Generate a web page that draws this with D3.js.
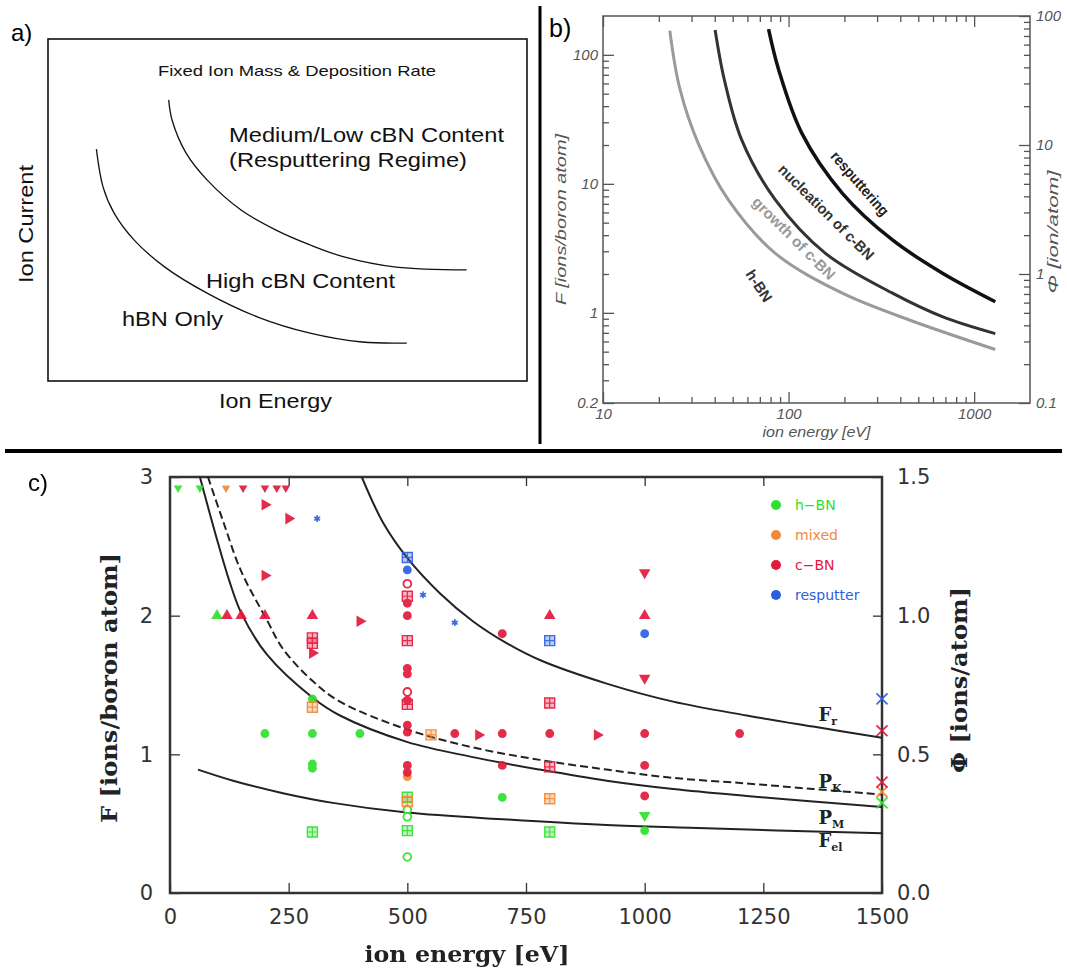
<!DOCTYPE html>
<html>
<head>
<meta charset="utf-8">
<script src="https://cdn.jsdelivr.net/npm/d3@7"></script>
<style>
  body { margin: 0; background: #fff; }
  svg { display: block; }
</style>
</head>
<body>
<div id="viz"></div>
<script>
// ---------- panel a: schematic (unitless 0..1 axes) ----------
const aHbnCurve = [[0.101,0.678],[0.115,0.567],[0.138,0.491],[0.180,0.412],[0.244,0.333],[0.332,0.257],[0.438,0.187],[0.547,0.140],[0.656,0.114],[0.749,0.111]];
const aResputCurve = [[0.252,0.822],[0.259,0.763],[0.288,0.667],[0.332,0.588],[0.403,0.500],[0.475,0.442],[0.547,0.398],[0.618,0.363],[0.727,0.333],[0.874,0.325]];

// ---------- panel b: ion energy [eV] vs F [ions/boron atom], log-log ----------
const bEnergyTicks = [10, 100, 1000];
const bFTicks = [0.2, 1, 10, 100];
const bPhiTicks = [0.1, 1, 10, 100];
const bHbnCurve = [[22.9,154],[25.9,55.1],[32.6,20.6],[47.4,7.5],[84.9,2.89],[195,1.42],[448,0.88],[1300,0.52]];
const bNuclCurve = [[40.2,156],[45.1,63.8],[55.9,21.9],[84.9,7.5],[158,2.89],[363,1.42],[679,0.93],[1300,0.69]];
const bResputCurve = [[78,158],[88.5,76.3],[118,24.6],[195,8.45],[363,3.67],[679,2.02],[1300,1.22]];

// ---------- panel c: ion energy [eV] vs F (left) / Phi (right) ----------
const cEnergyTicks = [0, 250, 500, 750, 1000, 1250, 1500];
const cFTicks = [0, 1, 2, 3];
const cPhiTicks = [0.0, 0.5, 1.0, 1.5];
const cFr  = [[404,3.0],[449,2.67],[499,2.42],[569,2.16],[638,1.96],[710,1.80],[779,1.68],[920,1.51],[1060,1.38],[1215,1.28],[1355,1.20],[1500,1.12]];
const cPk  = [[80,3.0],[110,2.70],[150,2.32],[204,1.97],[238,1.76],[300,1.53],[358,1.38],[499,1.18],[638,1.05],[779,0.96],[920,0.89],[1060,0.83],[1215,0.79],[1355,0.75],[1500,0.71]];
const cPm  = [[63,3.0],[99,2.55],[126,2.24],[150,2.02],[204,1.72],[300,1.41],[358,1.28],[499,1.09],[638,0.98],[779,0.89],[920,0.81],[1060,0.75],[1215,0.70],[1355,0.66],[1500,0.62]];
const cFel = [[59,0.89],[133,0.81],[238,0.72],[343,0.65],[499,0.58],[710,0.53],[920,0.49],[1095,0.47],[1500,0.43]];

const phaseNames = ["h\u2212BN", "mixed", "c\u2212BN", "resputter"];
// [ion energy, F, marker]
const hbnPts = [
  [17,2.92,"dot-down"],[63,2.92,"dot-down"],[99,2.0,"tri-up"],
  [200,1.15,"circle"],[300,1.40,"circle"],[300,1.15,"circle"],[300,0.93,"circle"],[300,0.90,"circle"],[300,0.44,"boxplus"],
  [400,1.15,"circle"],
  [500,0.69,"boxplus"],[500,0.60,"ring"],[500,0.55,"ring"],[500,0.45,"boxplus"],[500,0.26,"ring"],
  [700,0.69,"circle"],[800,0.44,"boxplus"],
  [1000,0.56,"tri-down"],[1000,0.45,"circle"],
  [1500,0.65,"cross"]
];
const mixedPts = [
  [118,2.92,"dot-down"],[300,1.34,"boxplus"],
  [500,0.84,"circle"],[500,0.66,"boxplus"],[550,1.14,"boxplus"],
  [800,0.68,"boxplus"],[1500,0.73,"cross"]
];
const cbnPts = [
  [154,2.92,"dot-down"],[200,2.92,"dot-down"],[225,2.92,"dot-down"],[244,2.92,"dot-down"],
  [200,2.80,"tri-right"],[250,2.70,"tri-right"],[200,2.29,"tri-right"],[400,1.96,"tri-right"],[650,1.14,"tri-right"],[900,1.14,"tri-right"],
  [120,2.0,"tri-up"],[150,2.0,"tri-up"],[200,2.0,"tri-up"],[300,2.0,"tri-up"],[800,2.0,"tri-up"],[1000,2.0,"tri-up"],
  [300,1.84,"boxplus"],[300,1.80,"boxplus"],[300,1.73,"tri-right"],
  [500,2.23,"ring"],[500,2.14,"boxplus"],[500,2.09,"circle"],[500,2.0,"circle"],[500,1.82,"boxplus"],[500,1.62,"circle"],[500,1.58,"circle"],
  [500,1.45,"ring"],[500,1.39,"circle"],[500,1.36,"boxplus"],[500,1.21,"circle"],[500,1.16,"circle"],[500,0.92,"circle"],[500,0.87,"circle"],
  [600,1.15,"circle"],[700,1.87,"circle"],[700,1.15,"circle"],[700,0.92,"circle"],
  [800,1.37,"boxplus"],[800,1.15,"circle"],[800,0.91,"boxplus"],
  [1000,2.31,"tri-down"],[1000,1.55,"tri-down"],[1000,1.15,"circle"],[1000,0.92,"circle"],[1000,0.70,"circle"],
  [1200,1.15,"circle"],
  [1500,1.17,"cross"],[1500,0.80,"cross"]
];
const resputPts = [
  [310,2.70,"star"],[500,2.42,"boxplus"],[500,2.33,"circle"],[533,2.15,"star"],[600,1.95,"star"],
  [800,1.82,"boxplus"],[1000,1.87,"circle"],[1500,1.40,"cross"]
];

const phaseColors = ["#2fe02f", "#ef8a3a", "#e3183d", "#2b5fe0"];

// ---------------------------------------------------------------
const svg = d3.select("#viz").append("svg")
  .attr("width", 1067).attr("height", 972)
  .style("font-family", "'Liberation Sans', Arial, sans-serif");

// panel dividers
svg.append("line").attr("x1", 540).attr("x2", 540).attr("y1", 6).attr("y2", 444)
  .attr("stroke", "#000").attr("stroke-width", 3);
svg.append("line").attr("x1", 5).attr("x2", 1062).attr("y1", 451).attr("y2", 451)
  .attr("stroke", "#000").attr("stroke-width", 4);

// ================= panel a =================
const ax = d3.scaleLinear().domain([0, 1]).range([48, 527]);
const ay = d3.scaleLinear().domain([0, 1]).range([381, 39]);
const ga = svg.append("g");

ga.append("rect")
  .attr("x", ax(0)).attr("y", ay(1))
  .attr("width", ax(1) - ax(0)).attr("height", ay(0) - ay(1))
  .attr("fill", "none").attr("stroke", "#111").attr("stroke-width", 1.6);

const aLine = d3.line().x(d => ax(d[0])).y(d => ay(d[1])).curve(d3.curveCatmullRom.alpha(0.5));
[aHbnCurve, aResputCurve].forEach(c => {
  ga.append("path").datum(c).attr("d", aLine)
    .attr("fill", "none").attr("stroke", "#111").attr("stroke-width", 1.3);
});

function aText(str, x, y, size, len) {
  const t = ga.append("text").attr("x", x).attr("y", y)
    .attr("font-size", size).attr("fill", "#111").text(str);
  if (len) t.attr("textLength", len).attr("lengthAdjust", "spacingAndGlyphs");
  return t;
}
svg.append("text").attr("x", 11).attr("y", 41).attr("font-size", 24).text("a)");
aText("Fixed Ion Mass & Deposition Rate", 158, 76, 15, 278);
aText("Medium/Low cBN Content", 229, 142, 21, 275);
aText("(Resputtering Regime)", 229, 167, 21, 238);
aText("High cBN Content", 206, 288, 21, 189);
aText("hBN Only", 122, 326, 21, 101);
aText("Ion Energy", 219, 408, 21, 113);
ga.append("text").attr("transform", "translate(33,224) rotate(-90)")
  .attr("text-anchor", "middle").attr("font-size", 21).attr("fill", "#111")
  .attr("textLength", 118).attr("lengthAdjust", "spacingAndGlyphs")
  .text("Ion Current");

// ================= panel b =================
const bL = 603, bR = 1030, bT = 16, bB = 403;
const bx = d3.scaleLog().domain([10, 2000]).range([bL, bR]);
const by = d3.scaleLog().domain([0.2, 200]).range([bB, bT]);
const byPhi = d3.scaleLog().domain([0.1, 100]).range([bB, bT]);
const gb = svg.append("g");
const bAxisColor = "#555";

function minorLog(lo, hi) {
  const out = [];
  for (let dec = lo; dec < hi; dec *= 10)
    for (let m = 2; m <= 9; m++) out.push(dec * m);
  return out;
}

function styleAxis(sel, color, fontSize, italic, family) {
  sel.select(".domain").remove();
  sel.selectAll("line").attr("stroke", color).attr("stroke-width", 1.3);
  sel.selectAll("text").attr("fill", color).attr("font-size", fontSize)
    .attr("font-style", italic ? "italic" : "normal")
    .attr("font-family", family);
}

const bFam = "'Liberation Sans', Arial, sans-serif";
// bottom
gb.append("g").attr("transform", `translate(0,${bB})`)
  .call(d3.axisBottom(bx).tickValues(bEnergyTicks).tickFormat(d3.format("d")).tickSize(-11).tickPadding(5))
  .call(s => styleAxis(s, bAxisColor, 15, true, bFam));
gb.append("g").attr("transform", `translate(0,${bB})`)
  .call(d3.axisBottom(bx).tickValues(minorLog(10, 1000).filter(v => v < 2000)).tickFormat("").tickSize(-6))
  .call(s => styleAxis(s, bAxisColor, 15, true, bFam));
// top
gb.append("g").attr("transform", `translate(0,${bT})`)
  .call(d3.axisTop(bx).tickValues(bEnergyTicks).tickFormat("").tickSize(-11))
  .call(s => styleAxis(s, bAxisColor, 15, true, bFam));
gb.append("g").attr("transform", `translate(0,${bT})`)
  .call(d3.axisTop(bx).tickValues(minorLog(10, 1000)).tickFormat("").tickSize(-6))
  .call(s => styleAxis(s, bAxisColor, 15, true, bFam));
// left
gb.append("g").attr("transform", `translate(${bL},0)`)
  .call(d3.axisLeft(by).tickValues(bFTicks).tickFormat(d => String(d)).tickSize(-11).tickPadding(5))
  .call(s => styleAxis(s, bAxisColor, 15, true, bFam));
gb.append("g").attr("transform", `translate(${bL},0)`)
  .call(d3.axisLeft(by).tickValues(minorLog(0.1, 100).filter(v => v > 0.2)).tickFormat("").tickSize(-6))
  .call(s => styleAxis(s, bAxisColor, 15, true, bFam));
// right
gb.append("g").attr("transform", `translate(${bR},0)`)
  .call(d3.axisRight(byPhi).tickValues(bPhiTicks).tickFormat(d => String(d)).tickSize(-11).tickPadding(6))
  .call(s => styleAxis(s, bAxisColor, 15, true, bFam));
gb.append("g").attr("transform", `translate(${bR},0)`)
  .call(d3.axisRight(byPhi).tickValues(minorLog(0.1, 100)).tickFormat("").tickSize(-6))
  .call(s => styleAxis(s, bAxisColor, 15, true, bFam));

gb.append("rect").attr("x", bL).attr("y", bT).attr("width", bR - bL).attr("height", bB - bT)
  .attr("fill", "none").attr("stroke", bAxisColor).attr("stroke-width", 1.5);

const bLine = d3.line().x(d => bx(d[0])).y(d => by(d[1])).curve(d3.curveCatmullRom.alpha(0.5));
[[bHbnCurve, "#9a9a9a", 3], [bNuclCurve, "#333", 3], [bResputCurve, "#111", 3.5]].forEach(([c, col, w]) => {
  gb.append("path").datum(c).attr("d", bLine)
    .attr("fill", "none").attr("stroke", col).attr("stroke-width", w);
});

// rotated curve labels (anchored in data units)
[["resputtering", 243, 10.1, 49, "#222", 80],
 ["nucleation of c-BN", 160, 6.05, 45, "#333", 128],
 ["growth of c-BN", 107, 3.8, 45, "#999", 110],
 ["h-BN", 69.5, 1.62, 57, "#333", 35]].forEach(([str, e, f, ang, col, len]) => {
  gb.append("text")
    .attr("transform", `translate(${bx(e)},${by(f)}) rotate(${ang})`)
    .attr("text-anchor", "middle").attr("dominant-baseline", "central")
    .attr("font-size", 15).attr("font-weight", 600).attr("fill", col)
    .attr("textLength", len).attr("lengthAdjust", "spacingAndGlyphs")
    .text(str);
});

gb.append("text").attr("transform", `translate(566,${(bT + bB) / 2 + 10}) rotate(-90)`)
  .attr("text-anchor", "middle").attr("font-size", 15).attr("font-style", "italic").attr("fill", "#555")
  .attr("textLength", 171).attr("lengthAdjust", "spacingAndGlyphs")
  .text("F [ions/boron atom]");
gb.append("text").attr("transform", `translate(1058,232) rotate(-90)`)
  .attr("text-anchor", "middle").attr("font-size", 15).attr("font-style", "italic").attr("fill", "#555")
  .attr("textLength", 123).attr("lengthAdjust", "spacingAndGlyphs")
  .text("\u03a6 [ion/atom]");
gb.append("text").attr("x", (bL + bR) / 2).attr("y", 437)
  .attr("text-anchor", "middle").attr("font-size", 15).attr("font-style", "italic").attr("fill", "#555")
  .attr("textLength", 108).attr("lengthAdjust", "spacingAndGlyphs")
  .text("ion energy [eV]");
svg.append("text").attr("x", 549).attr("y", 37).attr("font-size", 25).text("b)");

// ================= panel c =================
const cL = 170, cR = 882, cT = 477, cB = 893;
const cx = d3.scaleLinear().domain([0, 1500]).range([cL, cR]);
const cy = d3.scaleLinear().domain([0, 3]).range([cB, cT]);
const cyPhi = d3.scaleLinear().domain([0, 1.5]).range([cB, cT]);
const gc = svg.append("g");
const cAxisColor = "#333";
const cNumFam = "'DejaVu Sans', sans-serif";
const cTitleFam = "'DejaVu Serif', serif";
const inner = v => v > 0 && v < 1500;

gc.append("g").attr("transform", `translate(0,${cB})`)
  .call(d3.axisBottom(cx).tickValues(cEnergyTicks).tickFormat(d3.format("d")).tickSize(-10).tickPadding(16))
  .call(s => styleAxis(s, cAxisColor, 21, false, cNumFam));
gc.append("g").attr("transform", `translate(0,${cT})`)
  .call(d3.axisTop(cx).tickValues(cEnergyTicks.filter(inner)).tickFormat("").tickSize(-9))
  .call(s => styleAxis(s, cAxisColor, 21, false, cNumFam));
gc.append("g").attr("transform", `translate(${cL},0)`)
  .call(d3.axisLeft(cy).tickValues(cFTicks).tickFormat(d3.format("d")).tickSize(-10).tickPadding(17))
  .call(s => styleAxis(s, cAxisColor, 21, false, cNumFam));
gc.append("g").attr("transform", `translate(${cR},0)`)
  .call(d3.axisRight(cyPhi).tickValues(cPhiTicks).tickFormat(d3.format(".1f")).tickSize(-9).tickPadding(15))
  .call(s => styleAxis(s, cAxisColor, 21, false, cNumFam));

gc.append("rect").attr("x", cL).attr("y", cT).attr("width", cR - cL).attr("height", cB - cT)
  .attr("fill", "none").attr("stroke", cAxisColor).attr("stroke-width", 2.5);

// boundary curves
const cLine = d3.line().x(d => cx(d[0])).y(d => cy(d[1])).curve(d3.curveCatmullRom.alpha(0.5));
gc.append("clipPath").attr("id", "cclip").append("rect")
  .attr("x", cL).attr("y", cT).attr("width", cR - cL).attr("height", cB - cT);
[[cFr, null], [cPk, "8,4"], [cPm, null], [cFel, null]].forEach(([c, dash]) => {
  gc.append("path").datum(c).attr("d", cLine).attr("clip-path", "url(#cclip)")
    .attr("fill", "none").attr("stroke", "#222").attr("stroke-width", 2)
    .attr("stroke-dasharray", dash);
});

// curve labels
[["F", "r", 1.24], ["P", "K", 0.76], ["P", "M", 0.50], ["F", "el", 0.33]].forEach(([m, sub, f]) => {
  const t = gc.append("text").attr("x", cx(1366)).attr("y", cy(f))
    .attr("font-family", cTitleFam).attr("font-weight", "bold").attr("font-size", 18).attr("fill", "#222");
  t.append("tspan").text(m);
  t.append("tspan").attr("font-size", 11).attr("dy", 4).text(sub);
});

// markers
function markerPath(type) {
  switch (type) {
    case "circle": return d3.symbol(d3.symbolCircle, 62)();
    case "ring": return d3.symbol(d3.symbolCircle, 48)();
    case "tri-up": case "tri-down": case "tri-right": return d3.symbol(d3.symbolTriangle, 58)();
    case "dot-down": return d3.symbol(d3.symbolTriangle, 32)();
    case "star": return d3.symbol(d3.symbolAsterisk, 34)();
    case "cross": return d3.symbol(d3.symbolX, 80)();
    default: return d3.symbol(d3.symbolSquare, 100)();
  }
}
const rot = { "tri-down": 180, "dot-down": 180, "tri-right": 90 };

[hbnPts, mixedPts, cbnPts, resputPts].forEach((pts, i) => {
  const col = phaseColors[i];
  const gs = gc.append("g").attr("opacity", 0.92);
  pts.forEach(([e, f, type]) => {
    const g = gs.append("g").attr("transform", `translate(${cx(e)},${cy(f)}) rotate(${rot[type] || 0})`);
    const p = g.append("path").attr("d", markerPath(type));
    if (type === "ring") {
      p.attr("fill", "#fff").attr("stroke", col).attr("stroke-width", 1.8);
    } else if (type === "star") {
      p.attr("fill", "none").attr("stroke", col).attr("stroke-width", 1.5);
      g.append("circle").attr("r", 2.2).attr("fill", col);
    } else if (type === "cross") {
      p.attr("fill", "none").attr("stroke", col).attr("stroke-width", 1.8);
    } else if (type === "boxplus") {
      p.attr("fill", col).attr("fill-opacity", 0.35).attr("stroke", col).attr("stroke-width", 1.4);
      g.append("path").attr("d", "M-5,0H5M0,-5V5").attr("stroke", col).attr("stroke-width", 1.2);
    } else {
      p.attr("fill", col);
    }
  });
});

// legend
const leg = gc.append("g");
phaseNames.forEach((name, i) => {
  const yy = 505 + i * 30;
  leg.append("circle").attr("cx", 776).attr("cy", yy).attr("r", 5).attr("fill", phaseColors[i]);
  leg.append("text").attr("x", 795).attr("y", yy).attr("dominant-baseline", "central")
    .attr("font-family", cNumFam).attr("font-size", 14).attr("fill", phaseColors[i])
    .text(name);
});

// axis titles
gc.append("text").attr("transform", "translate(117,688) rotate(-90)")
  .attr("text-anchor", "middle").attr("font-family", cTitleFam).attr("font-weight", "bold")
  .attr("font-size", 22).attr("fill", "#222")
  .attr("textLength", 270).attr("lengthAdjust", "spacingAndGlyphs")
  .text("F [ions/boron atom]");
gc.append("text").attr("transform", "translate(967,680) rotate(-90)")
  .attr("text-anchor", "middle").attr("font-family", cTitleFam).attr("font-weight", "bold")
  .attr("font-size", 22).attr("fill", "#222")
  .attr("textLength", 186).attr("lengthAdjust", "spacingAndGlyphs")
  .text("\u03a6 [ions/atom]");
gc.append("text").attr("x", 467).attr("y", 962)
  .attr("text-anchor", "middle").attr("font-family", cTitleFam).attr("font-weight", "bold")
  .attr("font-size", 22).attr("fill", "#222")
  .attr("textLength", 205).attr("lengthAdjust", "spacingAndGlyphs")
  .text("ion energy [eV]");
svg.append("text").attr("x", 28).attr("y", 491).attr("font-size", 24).text("c)");
</script>
</body>
</html>
